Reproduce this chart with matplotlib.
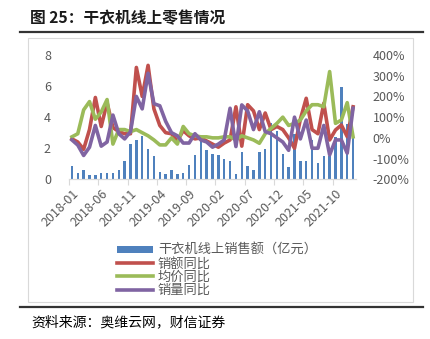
import matplotlib
matplotlib.use("Agg")
import matplotlib.pyplot as plt
from matplotlib.lines import Line2D
from matplotlib.patches import Patch, Rectangle
import numpy as np

plt.rcParams['font.family'] = ['Noto Sans CJK SC', 'DejaVu Sans']

# 2018-01 .. 2022-01, monthly
months = ["%d-%02d" % (2018 + m // 12, m % 12 + 1) for m in range(49)]

# online sales, 100 million yuan
sales = [0.87, 0.40, 0.59, 0.25, 0.25, 0.40, 0.40, 0.40, 0.63, 1.19,
         2.24, 2.50, 2.77, 1.95, 1.48, 0.49, 0.34, 0.63, 0.34, 0.40,
         0.95, 1.57, 2.50, 1.86, 1.65, 1.54, 1.33, 1.19, 0.34, 1.74,
         0.87, 0.59, 1.74, 1.95, 3.60, 3.13, 1.65, 0.80, 2.92, 1.19,
         1.19, 2.50, 1.06, 1.48, 1.48, 2.70, 5.93, 3.55, 2.70]

# year-on-year, %
amount_yoy = [-5, -20, -55, 40, 195, 55, 170, 50, 30, 20,
              20, 340, 200, 350, 140, 60, 25, 20, -15, 35,
              10, -5, 0, -15, -30, -45, -25, -10, 150, -40,
              160, 130, 40, 120, 40, 55, 40, 0, -50, 90,
              191, 40, 20, 167, -10, 38, 62, 6, 150]
price_yoy = [5, 20, 135, 175, 90, 125, 185, -30, 40, 40,
             30, 40, 25, 10, -10, -34, -34, 0, -30, 55,
             20, 10, 5, 5, 0, 0, 5, 5, -10, 10,
             0, -10, -26, 20, 46, 70, 100, 60, 70, 86,
             130, 160, 160, 150, 320, 70, 86, 170, 5]
volume_yoy = [-10, -35, -85, -45, 60, -40, -20, 110, 20, -5,
              30, 200, 140, 312, 165, 155, 80, 25, 10, -25,
              -25, 20, -10, -20, -45, -30, -10, 143, -42, 159,
              130, 40, 126, 30, 20, 0, -20, -60, 100, -5,
              86, -50, -50, 60, -82, -10, -10, -74, 143]

blue = '#4F81BD'
red = '#C0504D'
green = '#9BBB59'
purple = '#8064A2'
grey = '#595959'
light = '#D9D9D9'

fig = plt.figure(figsize=(4.31, 3.39), dpi=100)

fig.text(30 / 431, 1 - 18 / 339, "图 25：干衣机线上零售情况", fontsize=11.3,
         fontweight='bold', va='center', ha='left', color='#1a1a1a')
fig.add_artist(Line2D([20 / 431, 423 / 431], [1 - 31.5 / 339] * 2, color='#333333', lw=1.6))
fig.add_artist(Rectangle((28 / 431, 1 - 302 / 339), 385 / 431, 264 / 339, fill=False,
                         edgecolor=light, lw=0.8))
fig.add_artist(Line2D([20 / 431, 423 / 431], [1 - 306.5 / 339] * 2, color='#333333', lw=1.6))
fig.text(31 / 431, 1 - 322 / 339, "资料来源：奥维云网，财信证券", fontsize=10,
         va='center', ha='left', color='black', style='italic')

ax = fig.add_axes([69 / 431, 1 - 179.3 / 339, 287 / 431, 124.3 / 339])
x = np.arange(len(months))
ax.bar(x, sales, width=0.4, color=blue, zorder=2)
ax.set_xlim(-0.5, len(months) - 0.5)
ax.set_ylim(0, 8)
ax.set_yticks([0, 2, 4, 6, 8])

ax2 = ax.twinx()
ax2.plot(x, amount_yoy, color=red, lw=2.6, solid_joinstyle='round')
ax2.plot(x, price_yoy, color=green, lw=2.6, solid_joinstyle='round')
ax2.plot(x, volume_yoy, color=purple, lw=2.6, solid_joinstyle='round')
ax2.set_ylim(-200, 400)
ax2.set_yticks(range(-200, 401, 100))
ax2.set_yticklabels(["%d%%" % v for v in range(-200, 401, 100)])

for a in (ax, ax2):
    for s in ('top', 'left', 'right'):
        a.spines[s].set_visible(False)
    a.spines['bottom'].set_color(light)
ax.tick_params(axis='y', length=0, pad=13, labelsize=9, labelcolor=grey)
ax2.tick_params(axis='y', length=0, pad=12, labelsize=9, labelcolor=grey)

# tick marks on category boundaries, labels on category centres
ax.set_xticks(np.arange(-0.5, len(months), 5))
ax.set_xticklabels([])
ax.tick_params(axis='x', which='major', length=4, color=light)
ax.set_xticks(x[::5], minor=True)
ax.set_xticklabels(months[::5], minor=True, rotation=45, ha='right',
                   rotation_mode='anchor')
ax.tick_params(axis='x', which='minor', length=0, pad=6, labelsize=9, labelcolor=grey)

handles = [Patch(facecolor=blue, edgecolor='none'),
           Line2D([], [], color=red, lw=2.6),
           Line2D([], [], color=green, lw=2.6),
           Line2D([], [], color=purple, lw=2.6)]
labels = ["干衣机线上销售额（亿元）", "销额同比", "均价同比", "销量同比"]
fig.legend(handles, labels, loc='upper left', bbox_to_anchor=(117 / 431, 1 - 244 / 339),
           frameon=False, fontsize=9.5, handlelength=2.7, handleheight=0.45,
           handletextpad=0.4, labelspacing=0.02, labelcolor=grey, borderpad=0,
           borderaxespad=0)

fig.savefig("out.png", dpi=100)
